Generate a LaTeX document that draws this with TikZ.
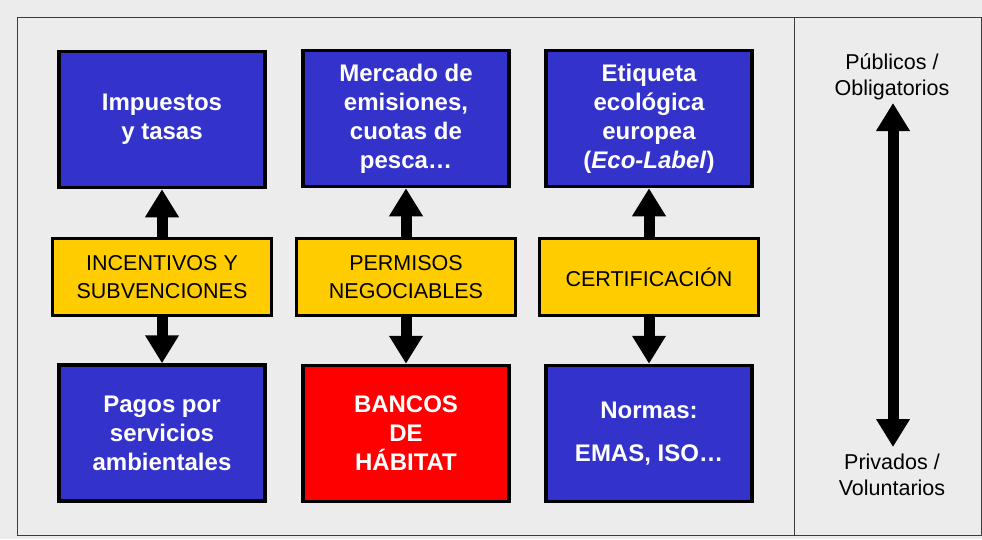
\documentclass[tikz,border=0pt]{standalone}
\usepackage{fontspec}
\setmainfont{Liberation Sans}
\usetikzlibrary{arrows.meta}
\definecolor{boxblue}{RGB}{51,51,204}
\definecolor{boxyellow}{RGB}{255,204,0}
\definecolor{boxred}{RGB}{255,0,0}
\definecolor{bggray}{RGB}{236,236,236}
\definecolor{framegray}{RGB}{60,60,60}
\begin{document}
\begin{tikzpicture}[x=1pt,y=-1pt,
  bluebox/.style={draw=black, line width=3.5pt, fill=boxblue, text=white,
    minimum width=206pt, minimum height=136pt, align=center,
    font=\fontsize{24}{29}\selectfont\bfseries, inner sep=0pt},
  redbox/.style={bluebox, fill=boxred},
  yellowbox/.style={draw=black, line width=3.5pt, fill=boxyellow, text=black,
    minimum width=219pt, minimum height=77pt, align=center,
    font=\fontsize{21.5}{27.5}\selectfont, inner sep=0pt},
  bigarrow/.style={line width=11pt, -{Triangle[width=32pt,length=28pt]}},
  twoarrow/.style={line width=11pt, {Triangle[width=32pt,length=28pt]}-{Triangle[width=32pt,length=28pt]}},
  sidelabel/.style={align=center, font=\fontsize{21.5}{26}\selectfont, inner sep=0pt}
]
\useasboundingbox (0,0) rectangle (982,539);
\fill[bggray] (0,0) rectangle (982,539);
\draw[line width=1pt, draw=framegray] (17,17) rectangle (981,535);
\draw[line width=1pt, draw=framegray] (794,17) -- (794,535);

% top row
\node[bluebox] (t1) at (162,119.5) {Impuestos\\y tasas};
\node[bluebox] (t2) at (406,118.5) {Mercado de\\emisiones,\\cuotas de\\pesca…};
\node[bluebox] (t3) at (649,118.5) {Etiqueta\\ecológica\\europea\\(\textit{Eco-Label})};

% middle row
\node[yellowbox] (y1) at (162,277) {INCENTIVOS Y\\SUBVENCIONES};
\node[yellowbox] (y2) at (406,277) {PERMISOS\\NEGOCIABLES};
\node[yellowbox] (y3) at (649,277) {CERTIFICACIÓN};

% bottom row
\node[bluebox] (b1) at (162,433) {Pagos por\\servicios\\ambientales};
\node[redbox] (b2) at (406,433.5) {BANCOS\\DE\\HÁBITAT};
\node[bluebox] (b3) at (649,433.5) {Normas:\\[14pt]EMAS, ISO…};

% arrows
\draw[bigarrow] (y1.north) -- (t1.south);
\draw[bigarrow] (y2.north) -- (t2.south);
\draw[bigarrow] (y3.north) -- (t3.south);
\draw[bigarrow] (y1.south) -- (b1.north);
\draw[bigarrow] (y2.south) -- (b2.north);
\draw[bigarrow] (y3.south) -- (b3.north);

% side scale
\node[sidelabel] (pub) at (892,77) {Públicos /\\Obligatorios};
\node[sidelabel] (priv) at (892,475) {Privados /\\Voluntarios};
\coordinate (up) at (893,103);
\coordinate (down) at (893,447);
\draw[twoarrow] (up) -- (down);
\end{tikzpicture}
\end{document}
